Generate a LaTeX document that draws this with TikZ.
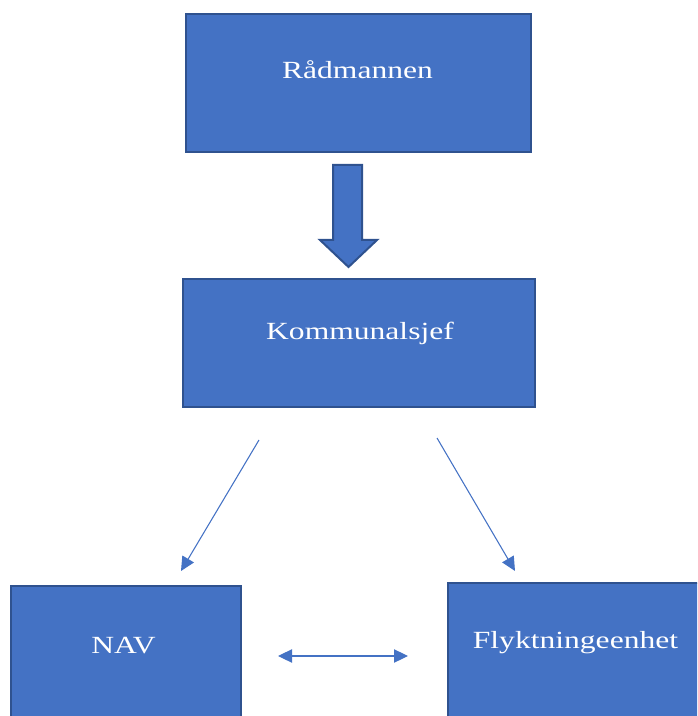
\documentclass[tikz,border=0pt]{standalone}
\usepackage{fontspec}
\setmainfont{Liberation Serif}
\newfontfamily\orgfont[FakeStretch=1.28]{Liberation Serif}
\usetikzlibrary{arrows.meta,positioning}
\definecolor{boxblue}{HTML}{4472C4}
\definecolor{boxedge}{HTML}{2F528F}
\tikzset{
  orgbox/.style={draw=boxedge,fill=boxblue,line width=1.5pt,inner sep=0pt,anchor=north west},
  orglabel/.style={text=white,anchor=base,inner sep=0pt,font=\orgfont\fontsize{18.5}{22}\selectfont},
  thinarrow/.style={draw=boxblue,line width=0.8pt,-{Triangle[length=10.5pt,width=10pt]}},
  blockarrow/.style={draw=boxedge,fill=boxblue,line width=1.5pt,line join=miter},
}
\begin{document}
\begin{tikzpicture}[x=0.75pt,y=-0.75pt]
\useasboundingbox (0,0) rectangle (697,716);
\clip (0,0) rectangle (697,716);
% boxes
\node[orgbox,minimum width=258.75pt,minimum height=103.5pt] (raad) at (185,13) {};
\node[orgbox,minimum width=264pt,minimum height=96pt] (komm) at (182,278) {};
\node[orgbox,minimum width=172.5pt,minimum height=150pt] (nav) at (10,585) {};
\node[orgbox,minimum width=225pt,minimum height=150pt] (flykt) at (447,582) {};
% texts
\node[orglabel] (raadtxt) at (357.5,79) {Rådmannen};
\node[orglabel] (kommtxt) at (360,339) {Kommunalsjef};
\node[orglabel] (navtxt) at (123.5,653) {NAV};
\node[orglabel] (flykttxt) at (575.5,648) {Flyktningeenhet};
% block arrow
\coordinate (ba) at (347.5,165);
\draw[blockarrow] (ba)++(-14.5,0)--++(29,0)--++(0,75)--++(15,0)--++(-28.5,27)--++(-28.5,-27)--++(13,0)--cycle;
% thin arrows
\coordinate (la) at (259,440);
\coordinate (lb) at (181,571);
\coordinate (ra) at (437,438);
\coordinate (rb) at (515,571);
\coordinate (da) at (278,656);
\coordinate (db) at (408,656);
\draw[thinarrow] (la)--(lb);
\draw[thinarrow] (ra)--(rb);
\draw[thinarrow,{Triangle[length=10.5pt,width=10pt]}-{Triangle[length=10.5pt,width=10pt]}] (da)--(db);
\end{tikzpicture}
\end{document}
